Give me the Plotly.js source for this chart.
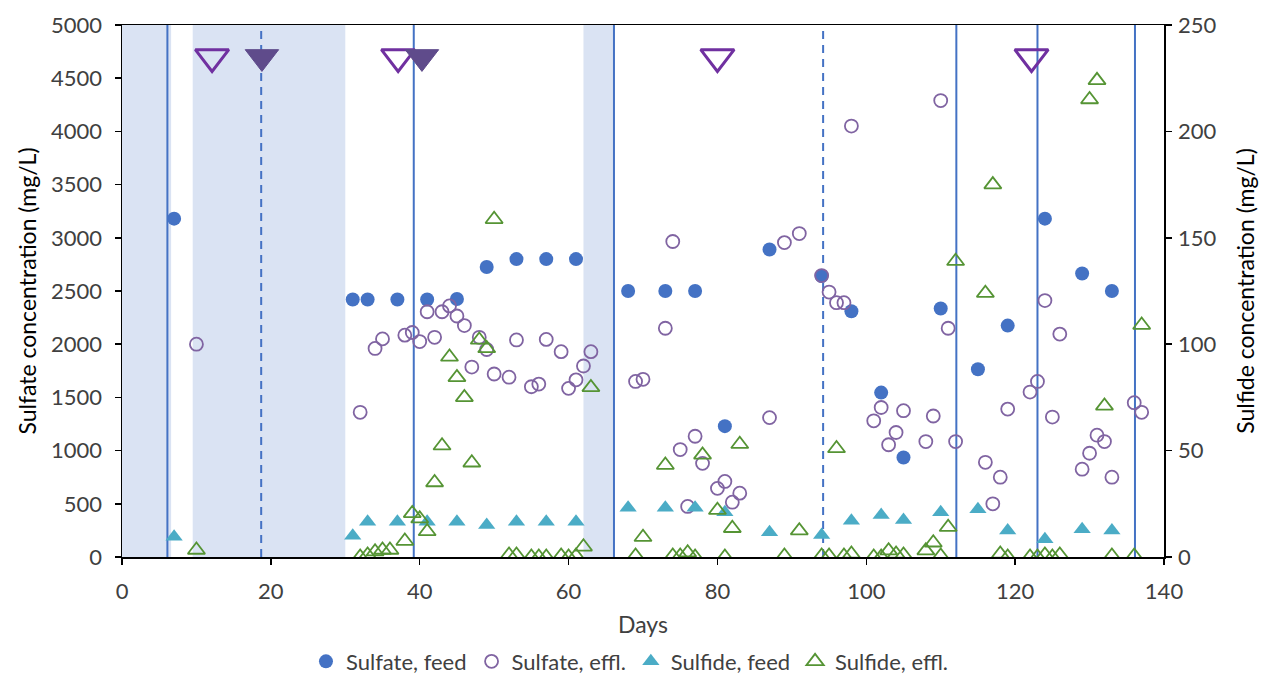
<!DOCTYPE html>
<html>
<head>
<meta charset="utf-8">
<script src="https://cdn.plot.ly/plotly-3.0.1.min.js"></script>
<style>
html,body{margin:0;padding:0;background:#fff;}
#chart{width:1266px;height:682px;}
</style>
</head>
<body>
<div id="chart"></div>
<script>
// ---- Data ----
const sulfateFeedDays = [7,31,33,37,41,45,49,53,57,61,68,73,77,81,87,94,98,102,105,110,115,119,124,129,133];
const sulfateFeed     = [3180,2420,2420,2420,2420,2425,2725,2800,2800,2800,2500,2500,2500,1230,2890,2640,2310,1545,935,2335,1765,2175,3180,2665,2500];

const sulfateEfflDays = [10,32,34,35,38,39,40,41,42,43,44,45,46,47,48,49,50,52,53,55,56,57,59,60,61,62,63,
                         69,70,73,74,75,76,77,78,80,81,82,83,87,89,91,94,95,96,97,98,101,102,103,104,105,108,109,
                         110,111,112,116,117,118,119,122,123,124,125,126,129,130,131,132,133,136,137];
const sulfateEffl     = [2000,1360,1960,2050,2085,2110,2025,2305,2065,2305,2360,2265,2175,1785,2065,1950,1720,1690,2040,1600,1625,2045,1930,1585,1665,1795,1930,
                         1650,1670,2150,2965,1010,475,1135,880,645,710,515,600,1310,2955,3040,2645,2490,2390,2390,4050,1280,1405,1055,1170,1375,1085,1325,
                         4290,2150,1085,890,500,750,1390,1550,1650,2410,1315,2095,825,975,1145,1085,750,1450,1360];

const sulfideFeedDays = [7,31,33,37,41,45,49,53,57,61,68,73,77,81,87,94,98,102,105,110,115,119,124,129,133];
const sulfideFeed     = [9.5,10,16.6,16.6,16.6,16.6,15,16.6,16.6,16.6,23.2,23.2,23.2,21,11.6,10.3,17,19.7,17.4,21,22.4,12.4,8.3,13,12.4];

const sulfideEfflDays = [10,32,33,34,35,36,38,39,40,41,42,43,44,45,46,47,48,49,50,52,53,55,56,57,59,60,61,62,63,
                         69,70,73,74,75,76,77,78,80,81,82,83,89,91,94,95,96,97,98,101,102,103,104,105,108,109,
                         110,111,112,116,117,118,119,122,123,124,125,126,130,131,132,133,136,137];
const sulfideEffl     = [3.3,0,1,2.5,3.3,3.3,7.5,20.5,18,12,35,52.3,94,84.4,75,44.3,102,98,158.7,1,1,0,0,0,0.5,0,0.5,4.8,79.7,
                         0.5,9.3,43.2,0.5,0.5,2,0,48,22,0,13.5,53,0.5,12.4,0.5,0.5,51,0.5,1.4,0,0,3,1.4,1,3,6.7,
                         0.5,14,139,124,175,1.4,0,0,0,1,0,1,215,224,71,0.5,0.5,109];

// Event markers at the top of the chart (on the sulfate axis)
const eventOpenDays   = [12.1, 37.1, 80, 122.2];
const eventOpenLevel  = [4700, 4700, 4700, 4700];
const eventFilledDays = [18.8, 40.3];
const eventFilledLevel= [4700, 4700];

// Phases
const shadeBands  = [[0, 6.6], [9.5, 30], [62, 66]];
const solidLines  = [6.1, 39.2, 66.1, 112.1, 123, 136.1];
const dashedLines = [18.7, 94.2];

// Tick labels
const xTicks  = [0,20,40,60,80,100,120,140];
const y1Ticks = [0,500,1000,1500,2000,2500,3000,3500,4000,4500,5000];
const y2Ticks = [0,50,100,150,200,250];

const FONT = 'Lato, "Open Sans", sans-serif';
const FS_TICK = 22;
const FS_TITLE = 23;
const FS_LEG = 22;

const traces = [
  {x: sulfateFeedDays, y: sulfateFeed, name: 'Sulfate, feed', type: 'scatter', mode: 'markers',
   marker: {symbol: 'circle', size: 14, color: '#4472C4'}},
  {x: sulfateEfflDays, y: sulfateEffl, name: 'Sulfate, effl.', type: 'scatter', mode: 'markers',
   marker: {symbol: 'circle-open', size: 13, color: '#8064A2', line: {width: 1.8, color: '#8064A2'}}},
  {x: sulfideFeedDays, y: sulfideFeed, name: 'Sulfide, feed', type: 'scatter', mode: 'markers', yaxis: 'y2',
   marker: {symbol: 'triangle-up', size: 15, color: '#4BACC6'}},
  {x: sulfideEfflDays, y: sulfideEffl, name: 'Sulfide, effl.', type: 'scatter', mode: 'markers', yaxis: 'y2',
   marker: {symbol: 'triangle-up-open', size: 15, color: '#559434', line: {width: 1.8, color: '#559434'}}},
  {x: eventOpenDays, y: eventOpenLevel, type: 'scatter', mode: 'markers', showlegend: false, hoverinfo: 'skip',
   marker: {symbol: 'triangle-down-open', size: 29, color: '#7030A0', line: {width: 3, color: '#7030A0'}}},
  {x: eventFilledDays, y: eventFilledLevel, type: 'scatter', mode: 'markers', showlegend: false, hoverinfo: 'skip',
   marker: {symbol: 'triangle-down', size: 29, color: '#5F4B8B', line: {width: 1, color: '#5F4B8B'}}}
];

const shapes = [];
shadeBands.forEach(b => shapes.push({type: 'rect', xref: 'x', yref: 'paper', x0: b[0], x1: b[1], y0: 0, y1: 1,
  fillcolor: '#DAE3F3', line: {width: 0}, layer: 'below'}));
solidLines.forEach(d => shapes.push({type: 'line', xref: 'x', yref: 'paper', x0: d, x1: d, y0: 0, y1: 1,
  line: {color: '#4472C4', width: 2}, layer: 'below'}));
dashedLines.forEach(d => shapes.push({type: 'line', xref: 'x', yref: 'paper', x0: d, x1: d, y0: 0, y1: 1,
  line: {color: '#4472C4', width: 2, dash: '8px,6px'}, layer: 'below'}));

const layout = {
  width: 1266, height: 682,
  margin: {l: 122, r: 102, t: 25, b: 125},
  paper_bgcolor: '#fff', plot_bgcolor: '#fff',
  font: {family: FONT, size: FS_TICK, color: '#404040'},
  showlegend: true,
  legend: {orientation: 'h', xref: 'container', yref: 'container', x: 0.4976, xanchor: 'center', y: 0.03, yanchor: 'middle',
           font: {family: FONT, size: FS_LEG, color: '#404040'}, itemwidth: 30, tracegroupgap: 0},
  xaxis: {range: [0, 140], tickvals: xTicks, ticktext: xTicks.map(String), ticks: 'outside', ticklen: 6, tickwidth: 1.5,
          tickcolor: '#000', showline: true, linecolor: '#000', linewidth: 1.5, mirror: true, showgrid: false, zeroline: false,
          ticklabelstandoff: 8, automargin: false,
          title: {text: 'Days', font: {family: FONT, size: FS_TITLE, color: '#404040'}, standoff: 14}},
  yaxis: {range: [0, 5000], tickvals: y1Ticks, ticktext: y1Ticks.map(String), ticks: 'outside', ticklen: 6, tickwidth: 1.5,
          tickcolor: '#000', showline: true, linecolor: '#000', linewidth: 1.5, showgrid: false, zeroline: false,
          ticklabelstandoff: 8, automargin: false,
          title: {text: 'Sulfate concentration (mg/L)', font: {family: FONT, size: FS_TITLE, color: '#000'}, standoff: 8}},
  yaxis2: {range: [0, 250], overlaying: 'y', side: 'right', tickvals: y2Ticks, ticktext: y2Ticks.map(String),
           ticks: 'outside', ticklen: 6, tickwidth: 1.5, tickcolor: '#000', showline: true, linecolor: '#000', linewidth: 1.5,
           showgrid: false, zeroline: false, ticklabelstandoff: 2, automargin: false,
           title: {text: 'Sulfide concentration (mg/L)', font: {family: FONT, size: FS_TITLE, color: '#000'}, standoff: 22}},
  shapes: shapes
};

Plotly.newPlot('chart', traces, layout, {displayModeBar: false, staticPlot: true});
</script>
</body>
</html>
